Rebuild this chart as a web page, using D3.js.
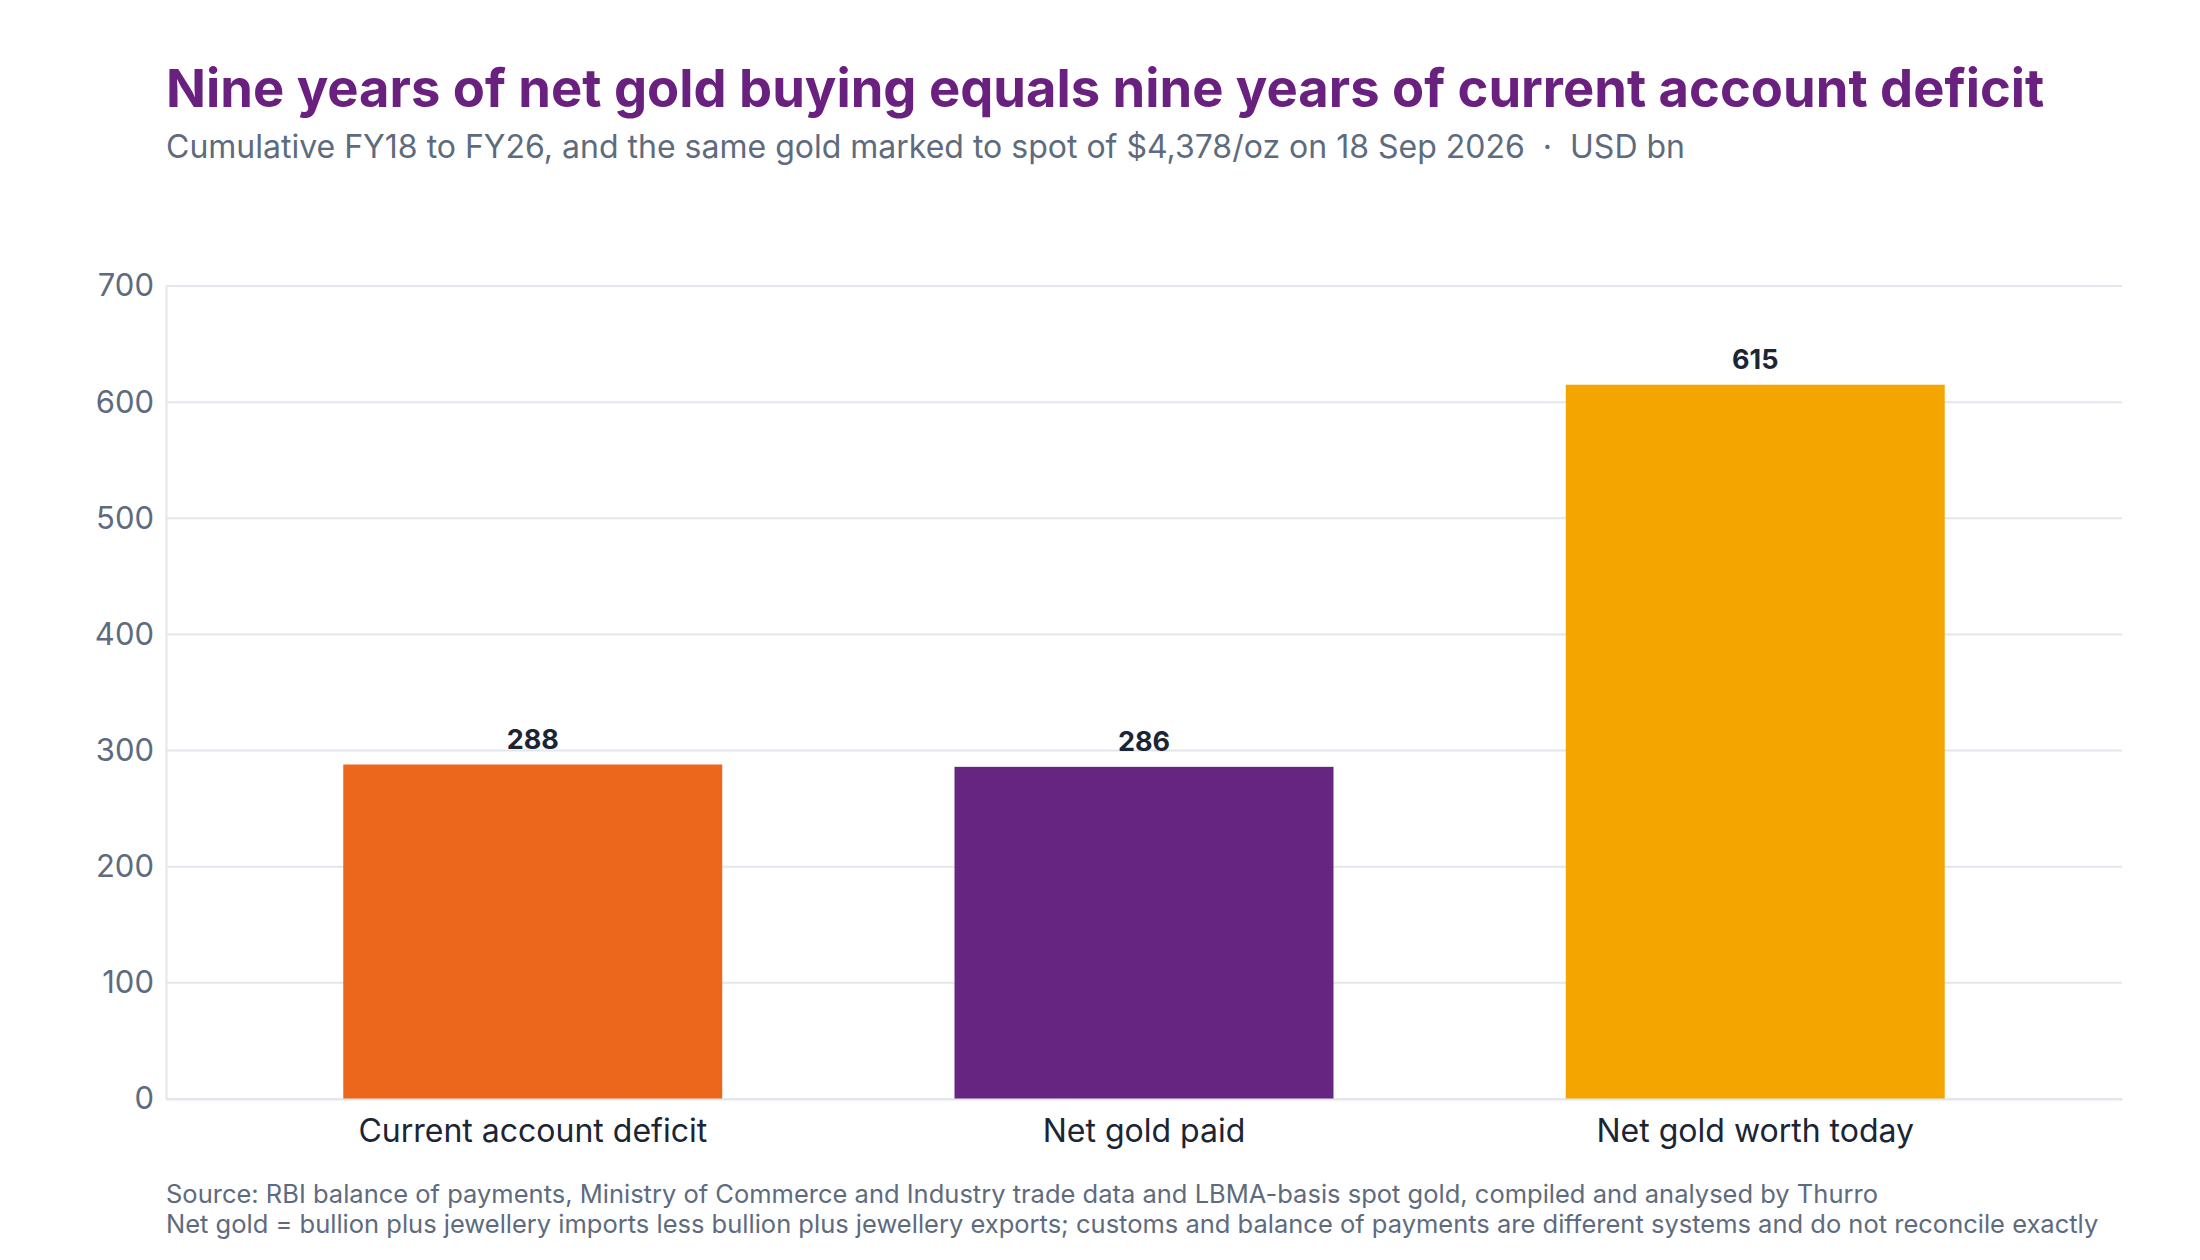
<!DOCTYPE html>
<html><head><meta charset="utf-8">
<script src="https://cdn.jsdelivr.net/npm/d3@7"></script>
<style>body{margin:0;background:#fff}svg{font-family:Inter,"Noto Sans",sans-serif}</style>
</head><body><svg id="chart" width="2200" height="1260"></svg>
<script>
var categories = ["Current account deficit", "Net gold paid", "Net gold worth today"];
var values = [288, 286, 615];
var colors = ["#EC671C", "#652580", "#F5A500"];
var yTicks = [0, 100, 200, 300, 400, 500, 600, 700];

var svg = d3.select("#chart");
var plotLeft = 166, plotRight = 2122, plotTop = 286, plotBottom = 1099;

var x = d3.scaleBand().domain(categories).range([plotLeft, plotRight]).paddingInner(0.38).paddingOuter(0.29);
var y = d3.scaleLinear().domain([0, 700]).range([plotBottom, plotTop]);

svg.append("text").attr("x", 166).attr("y", 107).attr("fill", "#69207F")
    .attr("font-size", 52.5).attr("font-weight", 700)
    .text("Nine years of net gold buying equals nine years of current account deficit");
svg.append("text").attr("x", 166).attr("y", 158).attr("fill", "#5E6B7E").attr("font-size", 32)
    .attr("xml:space", "preserve")
    .text("Cumulative FY18 to FY26, and the same gold marked to spot of $4,378/oz on 18 Sep 2026  \u00b7  USD bn");

// gridlines
svg.append("g").selectAll("line").data(yTicks).join("line")
    .attr("x1", plotLeft).attr("x2", plotRight)
    .attr("y1", d => y(d)).attr("y2", d => y(d))
    .attr("stroke", "#E3E6EC").attr("stroke-width", 2);

var yAxis = svg.append("g").attr("transform", "translate(" + plotLeft + ",0)")
    .call(d3.axisLeft(y).tickValues(yTicks).tickSize(0).tickPadding(12));
yAxis.select(".domain").attr("stroke", "#E3E6EC").attr("stroke-width", 2);
yAxis.selectAll("text").attr("font-size", 31).attr("fill", "#5E6B7E").attr("font-family", "Inter");

svg.append("g").selectAll("rect").data(values).join("rect")
    .attr("x", (d, i) => x(categories[i])).attr("width", x.bandwidth())
    .attr("y", d => y(d)).attr("height", d => y(0) - y(d))
    .attr("fill", (d, i) => colors[i]);

svg.append("g").selectAll("text").data(values).join("text")
    .attr("x", (d, i) => x(categories[i]) + x.bandwidth() / 2)
    .attr("y", d => y(d) - 16).attr("text-anchor", "middle")
    .attr("font-size", 27).attr("font-weight", 700).attr("fill", "#1B2535")
    .text(d => d);

var xAxis = svg.append("g").attr("transform", "translate(0," + plotBottom + ")")
    .call(d3.axisBottom(x).tickSize(0).tickPadding(20));
xAxis.select(".domain").attr("stroke", "#E3E6EC").attr("stroke-width", 2);
xAxis.selectAll("text").attr("font-size", 32).attr("fill", "#1B2535").attr("font-family", "Inter");

svg.append("text").attr("x", 166).attr("y", 1203).attr("fill", "#5E6B7E").attr("font-size", 25.5)
    .text("Source: RBI balance of payments, Ministry of Commerce and Industry trade data and LBMA-basis spot gold, compiled and analysed by Thurro");
svg.append("text").attr("x", 166).attr("y", 1233).attr("fill", "#5E6B7E").attr("font-size", 25.5)
    .text("Net gold = bullion plus jewellery imports less bullion plus jewellery exports; customs and balance of payments are different systems and do not reconcile exactly");
</script></body></html>
